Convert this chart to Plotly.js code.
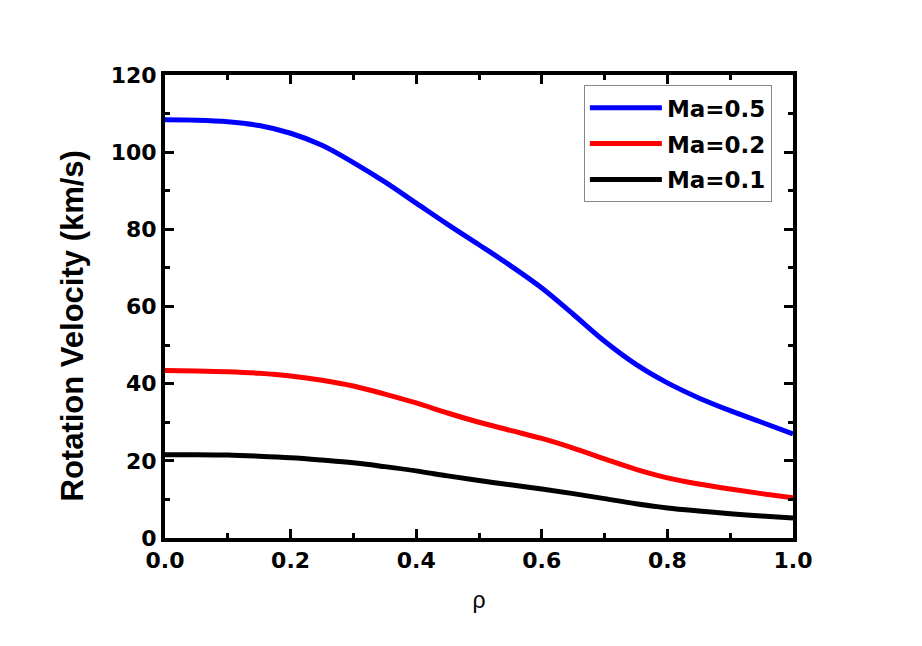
<!DOCTYPE html>
<html>
<head>
<meta charset="utf-8">
<script src="https://cdn.plot.ly/plotly-3.0.1.min.js"></script>
<style>html,body{margin:0;padding:0;background:#fff;}#chart{width:922px;height:646px;}</style>
</head>
<body>
<div id="chart"></div>
<script>
const rho = [0,0.05,0.1,0.15,0.2,0.25,0.3,0.35,0.4,0.45,0.5,0.55,0.6,0.65,0.7,0.75,0.8,0.85,0.9,0.95,1.0];
const ma05 = [108.4,108.3,107.9,106.9,104.9,101.8,97.3,92.3,86.8,81.3,76.0,70.6,64.8,58.0,51.0,45.0,40.2,36.3,33.0,30.0,27.0];
const ma02 = [43.4,43.3,43.1,42.7,42.0,40.9,39.4,37.3,35.0,32.4,30.0,27.9,25.8,23.3,20.5,17.8,15.6,14.0,12.7,11.5,10.4];
const ma01 = [21.6,21.6,21.5,21.2,20.8,20.2,19.5,18.5,17.4,16.1,14.9,13.8,12.7,11.5,10.2,8.9,7.8,7.0,6.3,5.7,5.2];
const names = ["Ma=0.5","Ma=0.2","Ma=0.1"];
const colors = ["#0000ff","#ff0000","#000000"];
const series = [ma05, ma02, ma01];
const yTitle = "Rotation Velocity (km/s)";
const xTitle = "ρ";

const FONT = "Arial, 'Liberation Sans', sans-serif";
const WIDE = "'DejaVu Sans', sans-serif";
const traces = series.map((s,i)=>({
  x: rho, y: s, type:'scatter', mode:'lines', name:names[i], legendgroup:'g'+i,
  line:{color:colors[i], width:5, shape:'spline', smoothing:1}
}));

const axisCommon = {
  showgrid:false, zeroline:false, showline:true, linecolor:'#000', linewidth:4,
  mirror:'allticks', ticks:'inside', ticklen:9, tickwidth:3, tickcolor:'#000',
  tickfont:{family:WIDE, size:22, color:'#000', weight:'bold'}
};

const layout = {
  width:922, height:646,
  margin:{l:165, r:129, t:75, b:108},
  paper_bgcolor:'#fff', plot_bgcolor:'#fff',
  showlegend:true,
  legend:{x:0.667, y:0.978, xanchor:'left', yanchor:'top', bgcolor:'#fff',
    bordercolor:'#888', borderwidth:1, font:{family:WIDE, size:23, color:'#000', weight:'bold'},
    tracegroupgap:3, itemwidth:72, traceorder:'grouped'},
  xaxis: Object.assign({}, axisCommon, {
    range:[0,1], dtick:0.2, tick0:0, tickformat:'.1f',
    minor:{ticks:'inside', dtick:0.1, ticklen:5, tickwidth:3, tickcolor:'#000'},
    title:{text:xTitle, font:{family:FONT, size:23, color:'#000'}, standoff:20}
  }),
  yaxis: Object.assign({}, axisCommon, {
    range:[0,120], dtick:20, tick0:0,
    minor:{ticks:'inside', dtick:10, ticklen:5, tickwidth:3, tickcolor:'#000'}
  }),
  annotations:[{
    text:yTitle, xref:'paper', yref:'paper', x:-0.148, y:0.457,
    xanchor:'center', yanchor:'middle', textangle:-90, showarrow:false,
    font:{family:FONT, size:31, color:'#000', weight:'bold'}
  }]
};

Plotly.newPlot('chart', traces, layout, {displayModeBar:false, staticPlot:true});
</script>
</body>
</html>
